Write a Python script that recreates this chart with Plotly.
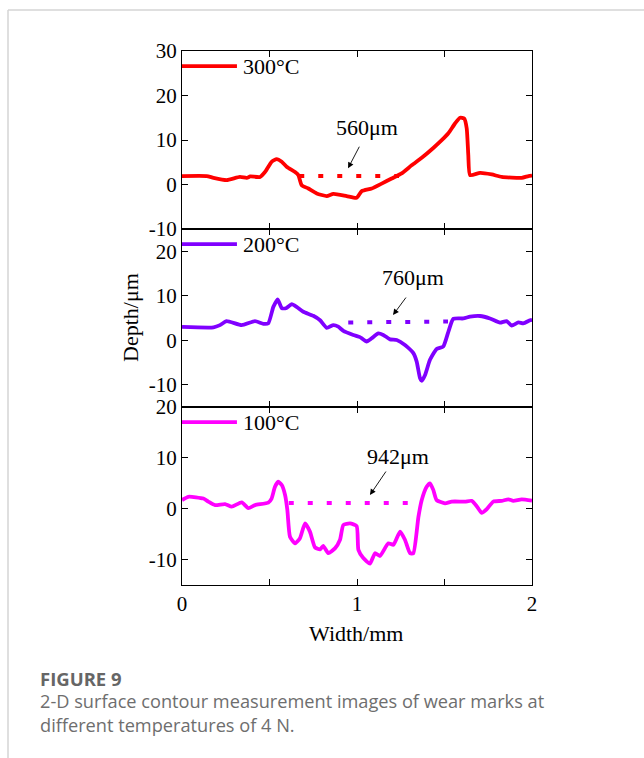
import plotly.graph_objects as go

# ---------------- data ----------------
x300 = [0.0, 0.141, 0.18, 0.255, 0.331, 0.37, 0.39, 0.446, 0.474, 0.512, 0.541, 0.57, 0.598, 0.646, 0.665,
        0.684, 0.722, 0.77, 0.827, 0.865, 0.941, 0.998, 1.027, 1.084, 1.141, 1.198, 1.255, 1.312, 1.37,
        1.436, 1.484, 1.522, 1.56, 1.589, 1.613, 1.627, 1.636, 1.646, 1.703, 1.77, 1.827, 1.941, 1.98, 2.0]
y300 = [1.9, 1.9, 1.5, 1.0, 1.7, 1.5, 1.8, 1.7, 2.8, 5.1, 5.7, 5.1, 4.0, 2.8, 2.1,
        -0.15, -0.9, -2.0, -2.6, -2.1, -2.6, -3.0, -1.5, -0.9, 0.2, 1.35, 2.5, 4.3, 6.0,
        8.2, 9.95, 11.5, 13.7, 15.0, 14.8, 12.6, 6.6, 2.1, 2.6, 2.25, 1.7, 1.5, 1.9, 2.0]

x200 = [0.0, 0.18, 0.217, 0.255, 0.341, 0.417, 0.465, 0.493, 0.522, 0.547, 0.57, 0.594, 0.627, 0.655,
        0.693, 0.75, 0.789, 0.827, 0.865, 0.893, 0.922, 0.979, 1.017, 1.027, 1.055, 1.084, 1.122, 1.15,
        1.189, 1.227, 1.274, 1.322, 1.341, 1.36, 1.37, 1.389, 1.417, 1.455, 1.493, 1.522, 1.55, 1.608,
        1.646, 1.703, 1.76, 1.817, 1.855, 1.884, 1.922, 1.95, 1.989, 2.0]
y200 = [3.0, 2.9, 3.4, 4.3, 3.4, 4.3, 3.7, 3.8, 7.5, 9.2, 7.2, 7.2, 8.1, 7.5,
        6.4, 5.5, 4.5, 2.8, 3.4, 3.05, 2.1, 1.2, 0.7, 0.45, -0.3, 0.45, 1.55, 1.2,
        0.2, 0.05, -1.05, -2.9, -4.8, -8.5, -9.1, -7.8, -4.4, -1.95, -1.4, 1.9, 4.8, 4.9,
        5.3, 5.45, 4.9, 3.95, 4.3, 3.3, 4.0, 3.8, 4.5, 4.6]

x100 = [0.0, 0.036, 0.122, 0.15, 0.189, 0.246, 0.284, 0.341, 0.379, 0.417, 0.493, 0.512, 0.531, 0.55,
        0.57, 0.589, 0.602, 0.617, 0.646, 0.674, 0.703, 0.731, 0.76, 0.789, 0.807, 0.836, 0.874, 0.903,
        0.922, 0.96, 0.998, 1.008, 1.036, 1.074, 1.103, 1.131, 1.179, 1.208, 1.246, 1.274, 1.303, 1.322,
        1.351, 1.37, 1.398, 1.417, 1.436, 1.455, 1.503, 1.541, 1.617, 1.655, 1.684, 1.712, 1.741, 1.779,
        1.827, 1.865, 1.893, 1.941, 2.0]
y100 = [1.7, 2.35, 2.0, 1.4, 0.7, 0.9, 0.4, 1.25, 0.1, 0.7, 1.2, 2.0, 4.3, 5.3,
        4.65, 2.7, -0.25, -5.5, -6.8, -5.8, -2.9, -4.5, -7.6, -8.0, -7.3, -8.75, -7.8, -6.1,
        -3.2, -2.9, -3.4, -8.1, -9.7, -10.8, -8.75, -9.3, -6.8, -7.1, -4.5, -6.1, -8.75, -8.75,
        -1.6, 1.7, 4.3, 5.0, 3.7, 1.7, 1.05, 1.4, 1.4, 1.55, 0.5, -0.8, -0.1, 1.4,
        1.55, 1.85, 1.55, 1.85, 1.6]

# wear-width reference lines (start x, end x, depth)
width_x = [[0.67, 1.24], [0.95, 1.52], [0.61, 1.36]]
width_y = [[1.9, 1.9], [4.0, 4.2], [1.1, 1.1]]
width_labels = ["560μm", "760μm", "942μm"]
label_pos = [(1.055, 12.9), (1.32, 14.2), (1.234, 10.2)]
arrow_head = [(0.949, 3.66), (1.206, 5.66), (1.074, 2.69)]
arrow_off = [(12, -23), (14, -19), (17, -25)]

series_names = ["300°C", "200°C", "100°C"]
series_x = [x300, x200, x100]
series_y = [y300, y200, y100]
colors = ["#FF0000", "#8000FF", "#FF00FF"]
y_ranges = [[-10, 30], [-15, 25], [-15, 20]]
y_ticks = [[-10, 0, 10, 20, 30], [-10, 0, 10, 20], [-10, 0, 10, 20]]

x_ticks = [0, 0.5, 1, 1.5, 2]
x_ticktext = ["0", "", "1", "", "2"]

# ---------------- layout helpers ----------------
W, H = 644, 758
serif = "Liberation Serif"
FS = 22      # titles / annotations
TFS = 21     # tick labels
x_dom = [182 / W, 532 / W]
panel_px = [(51, 229), (229, 407), (407, 585)]
y_doms = [[1 - b / H, 1 - t / H] for t, b in panel_px]

fig = go.Figure()
layout = dict(
    template="none",
    width=W, height=H, margin=dict(l=0, r=0, t=0, b=0, pad=0, autoexpand=False),
    paper_bgcolor="white", plot_bgcolor="white", showlegend=False,
    font=dict(family=serif, size=FS, color="black"),
)
annotations = []
shapes = []

for i in range(3):
    sfx = "" if i == 0 else str(i + 1)
    xa, ya = "x" + sfx, "y" + sfx
    fig.add_trace(go.Scatter(x=series_x[i], y=series_y[i], mode="lines", name=series_names[i],
                             line=dict(color=colors[i], width=3.8, shape="spline", smoothing=0.5),
                             xaxis=xa, yaxis=ya))
    fig.add_trace(go.Scatter(x=width_x[i], y=width_y[i], mode="lines",
                             line=dict(color=colors[i], width=4, dash="5px,14px"),
                             xaxis=xa, yaxis=ya))
    axis_common = dict(showline=True, linecolor="black", linewidth=1.3, mirror="allticks",
                       ticks="inside", ticklen=6, tickwidth=1.3, tickcolor="black",
                       showgrid=False, zeroline=False, automargin=False,
                       tickfont=dict(family=serif, size=TFS, color="black"))
    layout["xaxis" + sfx] = dict(axis_common, domain=x_dom, range=[0, 2], anchor=ya,
                                 tickmode="array", tickvals=x_ticks, ticktext=x_ticktext,
                                 showticklabels=(i == 2))
    layout["yaxis" + sfx] = dict(axis_common, domain=y_doms[i], range=y_ranges[i], anchor=xa,
                                 tickmode="array", tickvals=y_ticks[i],
                                 ticktext=[str(v) for v in y_ticks[i]])
    # legend key
    shapes.append(dict(type="line", xref=xa + " domain", yref=ya + " domain",
                       x0=0, x1=0.157, y0=0.915, y1=0.915,
                       line=dict(color=colors[i], width=3.8)))
    annotations.append(dict(text=series_names[i], xref=xa + " domain", yref=ya + " domain",
                            x=0.168, y=0.915, xanchor="left", yanchor="middle", showarrow=False,
                            font=dict(family=serif, size=FS)))
    # width labels
    annotations.append(dict(text=width_labels[i], xref=xa, yref=ya, x=label_pos[i][0], y=label_pos[i][1],
                            xanchor="center", yanchor="middle",
                            showarrow=False, font=dict(family=serif, size=FS)))
    annotations.append(dict(text="", xref=xa, yref=ya, x=arrow_head[i][0], y=arrow_head[i][1],
                            ax=arrow_off[i][0], ay=arrow_off[i][1], showarrow=True,
                            arrowhead=2, arrowsize=1.3, arrowwidth=0.9, arrowcolor="black"))

# axis titles
annotations.append(dict(text="Depth/μm", xref="paper", yref="paper", x=130 / W, y=1 - 318 / H,
                        xanchor="center", yanchor="middle",
                        textangle=-90, showarrow=False, font=dict(family=serif, size=FS)))
annotations.append(dict(text="Width/mm", xref="paper", yref="paper", x=356 / W, y=1 - 633 / H,
                        xanchor="center", yanchor="middle",
                        showarrow=False, font=dict(family=serif, size=FS)))
# caption
annotations.append(dict(text="<b>FIGURE 9</b>", xref="paper", yref="paper", x=38 / W, y=1 - 678 / H,
                        xanchor="left", yanchor="middle", showarrow=False,
                        font=dict(family="Open Sans", size=18.5, color="#666666")))
annotations.append(dict(text="2-D surface contour measurement images of wear marks at<br>different temperatures of 4 N.",
                        xref="paper", yref="paper", x=38 / W, y=1 - 712.5 / H,
                        xanchor="left", yanchor="middle", align="left", showarrow=False,
                        font=dict(family="Open Sans", size=18.2, color="#6e6e6e")))
# card border
shapes.append(dict(type="line", xref="paper", yref="paper", x0=8 / W, x1=1, y0=1 - 10 / H, y1=1 - 10 / H,
                   line=dict(color="#d4d4d4", width=1.5)))
shapes.append(dict(type="line", xref="paper", yref="paper", x0=8 / W, x1=8 / W, y0=0, y1=1 - 10 / H,
                   line=dict(color="#d4d4d4", width=1.5)))

layout["annotations"] = annotations
layout["shapes"] = shapes
fig.update_layout(**layout)
fig.write_html("out.html")
